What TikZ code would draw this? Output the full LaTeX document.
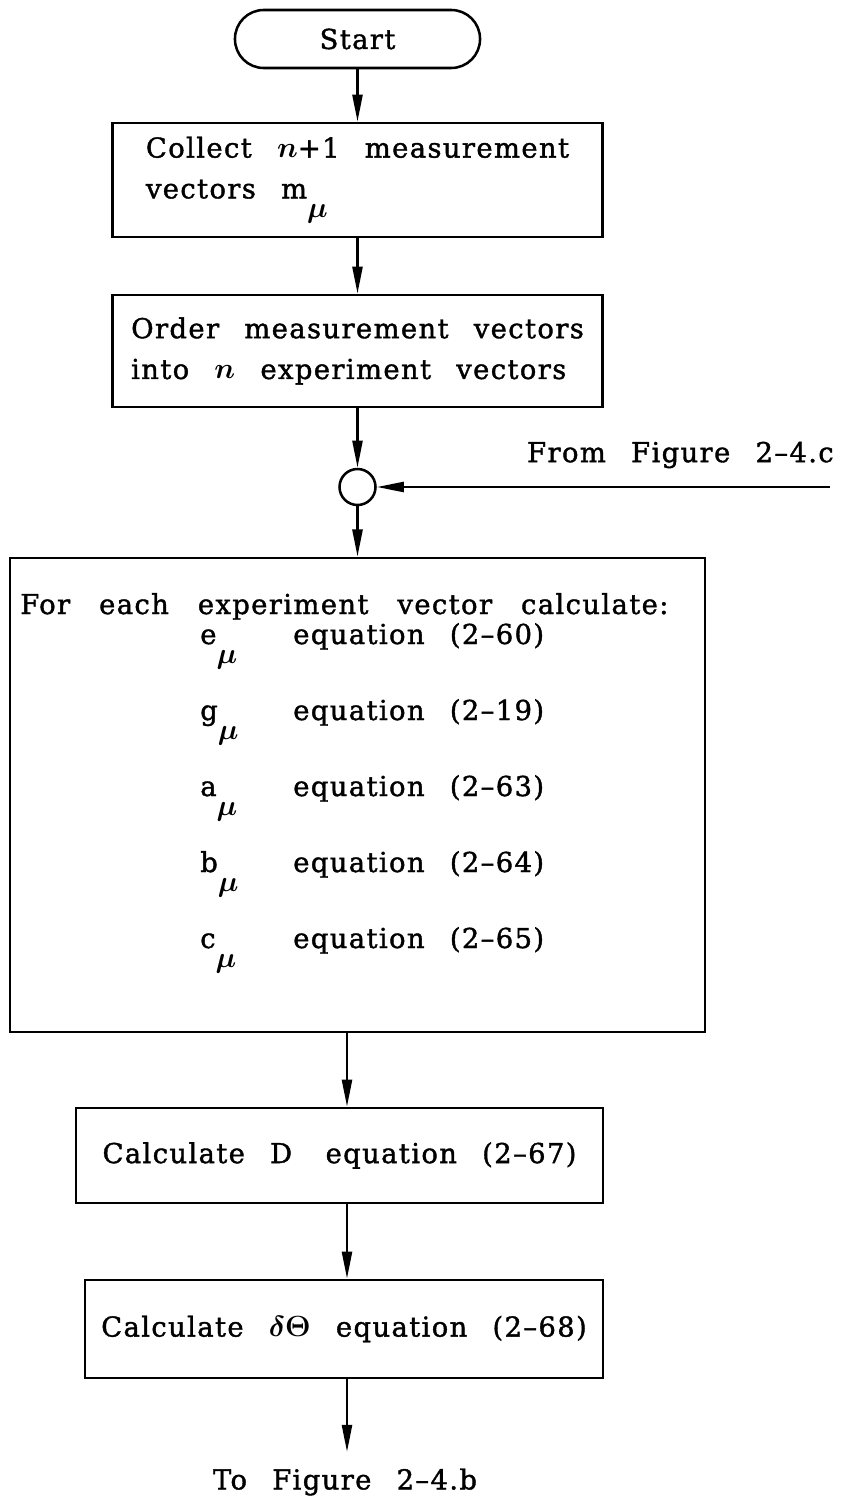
\documentclass[tikz,border=0pt]{standalone}
\usepackage{bm}
\usepackage{fontspec}
\setmainfont{DejaVu Serif}[LetterSpace=5,WordSpace=2.5,FakeBold=1.4]
\usetikzlibrary{arrows.meta}
\newcommand{\mulow}{\raisebox{-1.35ex}{$\bm{\mu}$}}

\begin{document}
\begin{tikzpicture}[x=0.025cm, y=-0.025cm,
        every node/.style={font=\fontsize{19.5}{29}\selectfont},
        termnode/.style={rectangle, rounded corners=0.72cm, draw, line width=1.8pt, minimum width=6.125cm, minimum height=1.45cm},
        boxnode/.style={rectangle, draw, line width=1.8pt, align=left},
        joinnode/.style={circle, draw, line width=1.8pt, minimum size=0.9cm, inner sep=0pt},
        textnode/.style={inner sep=0pt},
        flow/.style={line width=1.8pt, -{Triangle[length=0.68cm, width=0.25cm]}},
        ]
            \useasboundingbox (0,0) rectangle (850,1498);

            \node[termnode] at(357.5,39) (start) {Start};
            \node[boxnode, minimum width=12.25cm, minimum height=2.85cm] at(357.5,180) (collect)
                {Collect $\bm{n}$+1 measurement\\vectors m\mulow};
            \node[boxnode, minimum width=12.25cm, minimum height=2.8cm] at(357.5,351) (order)
                {Order measurement vectors\\into $\bm{n}$ experiment vectors};
            \node[joinnode] at(357.5,487) (join) {};
            \node[textnode, anchor=east] at(834,455) (fromc) {From Figure 2--4.c};
            \coordinate (src) at (830,487);

            \node[boxnode, minimum width=17.375cm, minimum height=11.85cm] at(357.5,795) (calc) {};
            \node[textnode, anchor=base west] at(20,614) (calctitle)
                {\spaceskip=1.15\fontdimen2\font For each experiment vector calculate:};
            \foreach \v/\eq [count=\i] in {e/60, g/19, a/63, b/64, c/65} {
                \node[textnode, anchor=base west] at(200,{644+76*(\i-1)}) (var\i) {\v\mulow};
                \node[textnode, anchor=base west] at(293,{644+76*(\i-1)}) (eq\i) {equation (2--\eq)};
            }

            \coordinate (spine) at (347,0);
            \node[boxnode, minimum width=13.175cm, minimum height=2.375cm] at(339.5,1155.5) (dbox)
                {Calculate D\hspace{0.3em} equation (2--67)};
            \node[boxnode, minimum width=12.95cm, minimum height=2.45cm] at(344,1329) (thbox)
                {Calculate $\bm{\delta\Theta}$ equation (2--68)};
            \coordinate (out) at (347,1452);
            \node[textnode] at(345,1482) (tob) {To Figure 2--4.b};

            \draw[flow] (start)  --  (collect) ;
            \draw[flow] (collect)  --  (order) ;
            \draw[flow] (order)  --  (join) ;
            \draw[flow] (src)  --  (join) ;
            \draw[flow] (join)  --  (join |- calc.north) ;
            \draw[flow] (calc.south -| spine)  --  (dbox.north -| spine) ;
            \draw[flow] (dbox.south -| spine)  --  (thbox.north -| spine) ;
            \draw[flow] (thbox.south -| spine)  --  (out) ;

            \end{tikzpicture}
\end{document}
